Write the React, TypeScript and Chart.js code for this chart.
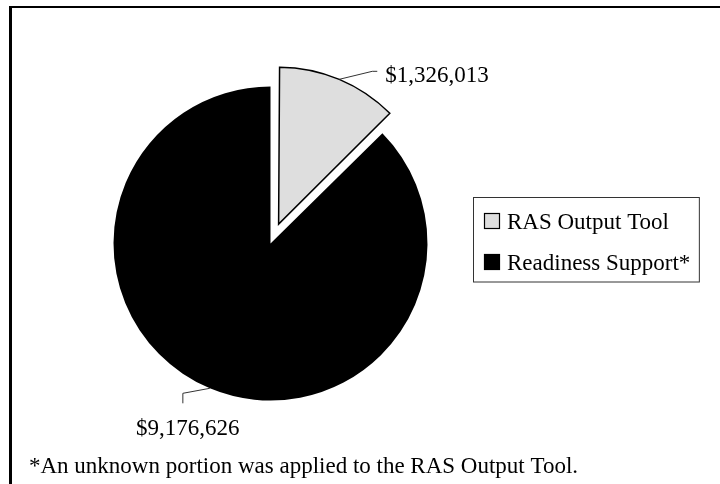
import React, { useEffect, useRef } from "react";
import { Chart, registerables } from "chart.js";

Chart.register(...registerables);

const categories: string[] = ["RAS Output Tool", "Readiness Support*"];
const values: number[] = [1326013, 9176626];
const sliceColors: string[] = ["#dedede", "#000000"];
const explode: number[] = [84, 0];
const footnote = "*An unknown portion was applied to the RAS Output Tool.";

const FONT = '23px "Liberation Serif", "Times New Roman", serif';

const fmt = (v: number) => "$" + v.toLocaleString("en-US");

const compensate = {
  id: "compensate",
  afterDatasetUpdate(chart: any, args: any) {
    const meta = args.meta;
    meta.data.forEach((arc: any) => {
      const off = (arc.options?.offset || 0) / 4;
      if (!off) return;
      const circ = arc.endAngle - arc.startAngle;
      const fix = 1 - Math.sin(Math.min(Math.PI, circ));
      arc.outerRadius = arc.outerRadius - off * fix;
    });
  },
};

const overlay = {
  id: "overlay",
  afterDraw(chart: any) {
    const ctx: CanvasRenderingContext2D = chart.ctx;
    const meta = chart.getDatasetMeta(0);
    const ds = chart.data.datasets[0];
    const baseR = (chart.options as any).radius as number;
    ctx.save();
    // outer frame
    ctx.fillStyle = "#000";
    ctx.fillRect(9, 6, 3, 484);
    ctx.fillRect(9, 6, 720, 2);

    ctx.font = FONT;
    ctx.textBaseline = "alphabetic";
    ctx.strokeStyle = "#333";
    ctx.lineWidth = 1;
    meta.data.forEach((arc: any, i: number) => {
      const off = (arc.options?.offset || 0) / 4;
      const mid = (arc.startAngle + arc.endAngle) / 2;
      const cx = arc.x + Math.cos(mid) * off;
      const cy = arc.y + Math.sin(mid) * off;
      const px = cx + Math.cos(mid) * baseR;
      const py = cy + Math.sin(mid) * baseR;
      const text = fmt(ds.data[i]);
      ctx.beginPath();
      if (py < arc.y) {
        const ex = px + 33, ey = py - 8;
        ctx.moveTo(px, py);
        ctx.lineTo(ex, ey);
        ctx.lineTo(ex + 5, ey);
        ctx.stroke();
        ctx.textAlign = "left";
        ctx.fillStyle = "#000";
        ctx.fillText(text, ex + 13, ey + 11);
      } else {
        const ex = px - 27, ey = py + 5;
        ctx.moveTo(px, py);
        ctx.lineTo(ex, ey);
        ctx.lineTo(ex, ey + 10);
        ctx.stroke();
        ctx.textAlign = "center";
        ctx.fillStyle = "#000";
        ctx.fillText(text, ex + 5, ey + 42);
      }
    });

    // legend
    ctx.textAlign = "left";
    const lx = 473.5, ly = 197.5, textX = 507;
    let maxW = 0;
    chart.data.labels.forEach((l: string) => {
      maxW = Math.max(maxW, ctx.measureText(l).width);
    });
    const lw = textX + maxW + 9 - lx;
    ctx.strokeStyle = "#333";
    ctx.lineWidth = 1;
    ctx.strokeRect(lx, ly, lw, 84.5);
    chart.data.labels.forEach((l: string, i: number) => {
      const sy = 213 + i * 41;
      ctx.fillStyle = ds.backgroundColor[i];
      ctx.fillRect(484, sy, 16, 16);
      ctx.strokeStyle = "#000";
      ctx.lineWidth = 1.2;
      ctx.strokeRect(484.5, sy + 0.5, 15, 15);
      ctx.fillStyle = "#000";
      ctx.fillText(l, textX, sy + 16);
    });

    // footnote
    ctx.fillText(footnote, 29, 473);
    ctx.restore();
  },
};

export default function App() {
  const ref = useRef<HTMLCanvasElement | null>(null);
  useEffect(() => {
    if (!ref.current) return;
    const chart = new Chart(ref.current, {
      type: "pie",
      data: {
        labels: categories,
        datasets: [
          {
            data: values,
            backgroundColor: sliceColors,
            borderColor: "#000",
            borderWidth: [1.5, 0],
            borderJoinStyle: "miter",
            offset: explode,
          } as any,
        ],
      },
      options: {
        responsive: false,
        animation: false,
        radius: 157,
        layout: { padding: { left: 100, right: 279, top: 70, bottom: 67 } },
        plugins: {
          legend: { display: false },
          tooltip: { enabled: false },
        },
      } as any,
      plugins: [compensate, overlay],
    });
    return () => chart.destroy();
  }, []);
  return (
    <div
      style={{
        position: "fixed",
        left: 0,
        top: 0,
        width: 720,
        height: 484,
        overflow: "hidden",
        background: "#fff",
      }}
    >
      <canvas ref={ref} width={720} height={484} style={{ display: "block" }} />
    </div>
  );
}
